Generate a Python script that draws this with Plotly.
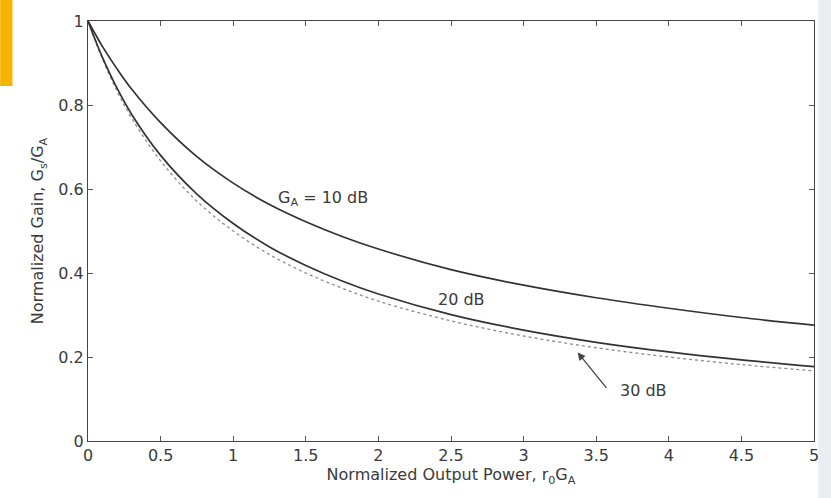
import plotly.graph_objects as go

# Normalized output power values (x axis)
power = [0, 0.05, 0.1, 0.2, 0.3, 0.5, 0.75, 1.0, 1.25, 1.5, 1.75, 2.0, 2.5, 3.0, 3.5, 4.0, 4.5, 5.0]

# Normalized gain
gain_10db = [1.0, 0.969, 0.939, 0.886, 0.838, 0.758, 0.677, 0.614, 0.563, 0.522, 0.487, 0.457, 0.408, 0.371, 0.341, 0.316, 0.294, 0.276]
gain_20db = [1.0, 0.955, 0.913, 0.840, 0.778, 0.680, 0.588, 0.518, 0.462, 0.418, 0.381, 0.350, 0.301, 0.264, 0.235, 0.212, 0.193, 0.177]
gain_30db = [1.0, 0.952, 0.909, 0.833, 0.769, 0.667, 0.571, 0.500, 0.444, 0.400, 0.364, 0.333, 0.286, 0.250, 0.222, 0.200, 0.182, 0.167]

x_ticks = [0, 0.5, 1, 1.5, 2, 2.5, 3, 3.5, 4, 4.5, 5]
x_tick_labels = ["0", "0.5", "1", "1.5", "2", "2.5", "3", "3.5", "4", "4.5", "5"]
y_ticks = [0, 0.2, 0.4, 0.6, 0.8, 1]
y_tick_labels = ["0", "0.2", "0.4", "0.6", "0.8", "1"]

FONT = "DejaVu Sans, Liberation Sans, Arial, sans-serif"
INK = "#3a3a3a"

fig = go.Figure()
fig.add_trace(go.Scatter(x=power, y=gain_30db, mode="lines", line=dict(color="#8c8c8c", width=1.3, dash="dot", shape="spline"), showlegend=False))
fig.add_trace(go.Scatter(x=power, y=gain_20db, mode="lines", line=dict(color="#333333", width=1.7, shape="spline"), showlegend=False))
fig.add_trace(go.Scatter(x=power, y=gain_10db, mode="lines", line=dict(color="#333333", width=1.7, shape="spline"), showlegend=False))

fig.add_annotation(x=1.616, y=0.578, text="G<sub>A</sub> = 10 dB", showarrow=False, font=dict(family=FONT, size=16, color=INK))
fig.add_annotation(x=2.57, y=0.337, text="20 dB", showarrow=False, font=dict(family=FONT, size=16, color=INK))
fig.add_annotation(x=3.826, y=0.120, text="30 dB", showarrow=False, font=dict(family=FONT, size=16, color=INK))
fig.add_annotation(x=3.372, y=0.211, ax=30, ay=37, text="", showarrow=True, arrowhead=2, arrowsize=1.2, arrowwidth=1.3, arrowcolor="#444444")

# scan artefacts: yellow tab and shaded right edge
fig.add_shape(type="rect", xref="paper", yref="paper", x0=-0.121, x1=-0.104, y0=0.845, y1=1.05, fillcolor="#F6B400", line=dict(width=0), layer="below")
fig.add_shape(type="rect", xref="paper", yref="paper", x0=1.006, x1=1.03, y0=-0.14, y1=1.05, fillcolor="#e9eef2", line=dict(width=0), layer="below")

axis_common = dict(showline=True, linecolor="#444444", linewidth=1.2, mirror="ticks", ticks="inside", ticklen=5,
                   tickcolor="#555555", showgrid=False, zeroline=False,
                   tickfont=dict(family=FONT, size=16, color=INK))

fig.update_layout(
    width=831, height=498,
    margin=dict(l=88, r=16, t=17, b=57),
    paper_bgcolor="white", plot_bgcolor="white",
    xaxis=dict(range=[0, 5], tickvals=x_ticks, ticktext=x_tick_labels,
               title=dict(text="Normalized Output Power, r<sub>0</sub>G<sub>A</sub>", font=dict(family=FONT, size=16, color=INK), standoff=2),
               **axis_common),
    yaxis=dict(range=[0, 1], tickvals=y_ticks, ticktext=y_tick_labels,
               title=dict(text="Normalized Gain, G<sub>s</sub>/G<sub>A</sub>", font=dict(family=FONT, size=16, color=INK), standoff=10),
               **axis_common),
)

fig.write_html("out.html")
